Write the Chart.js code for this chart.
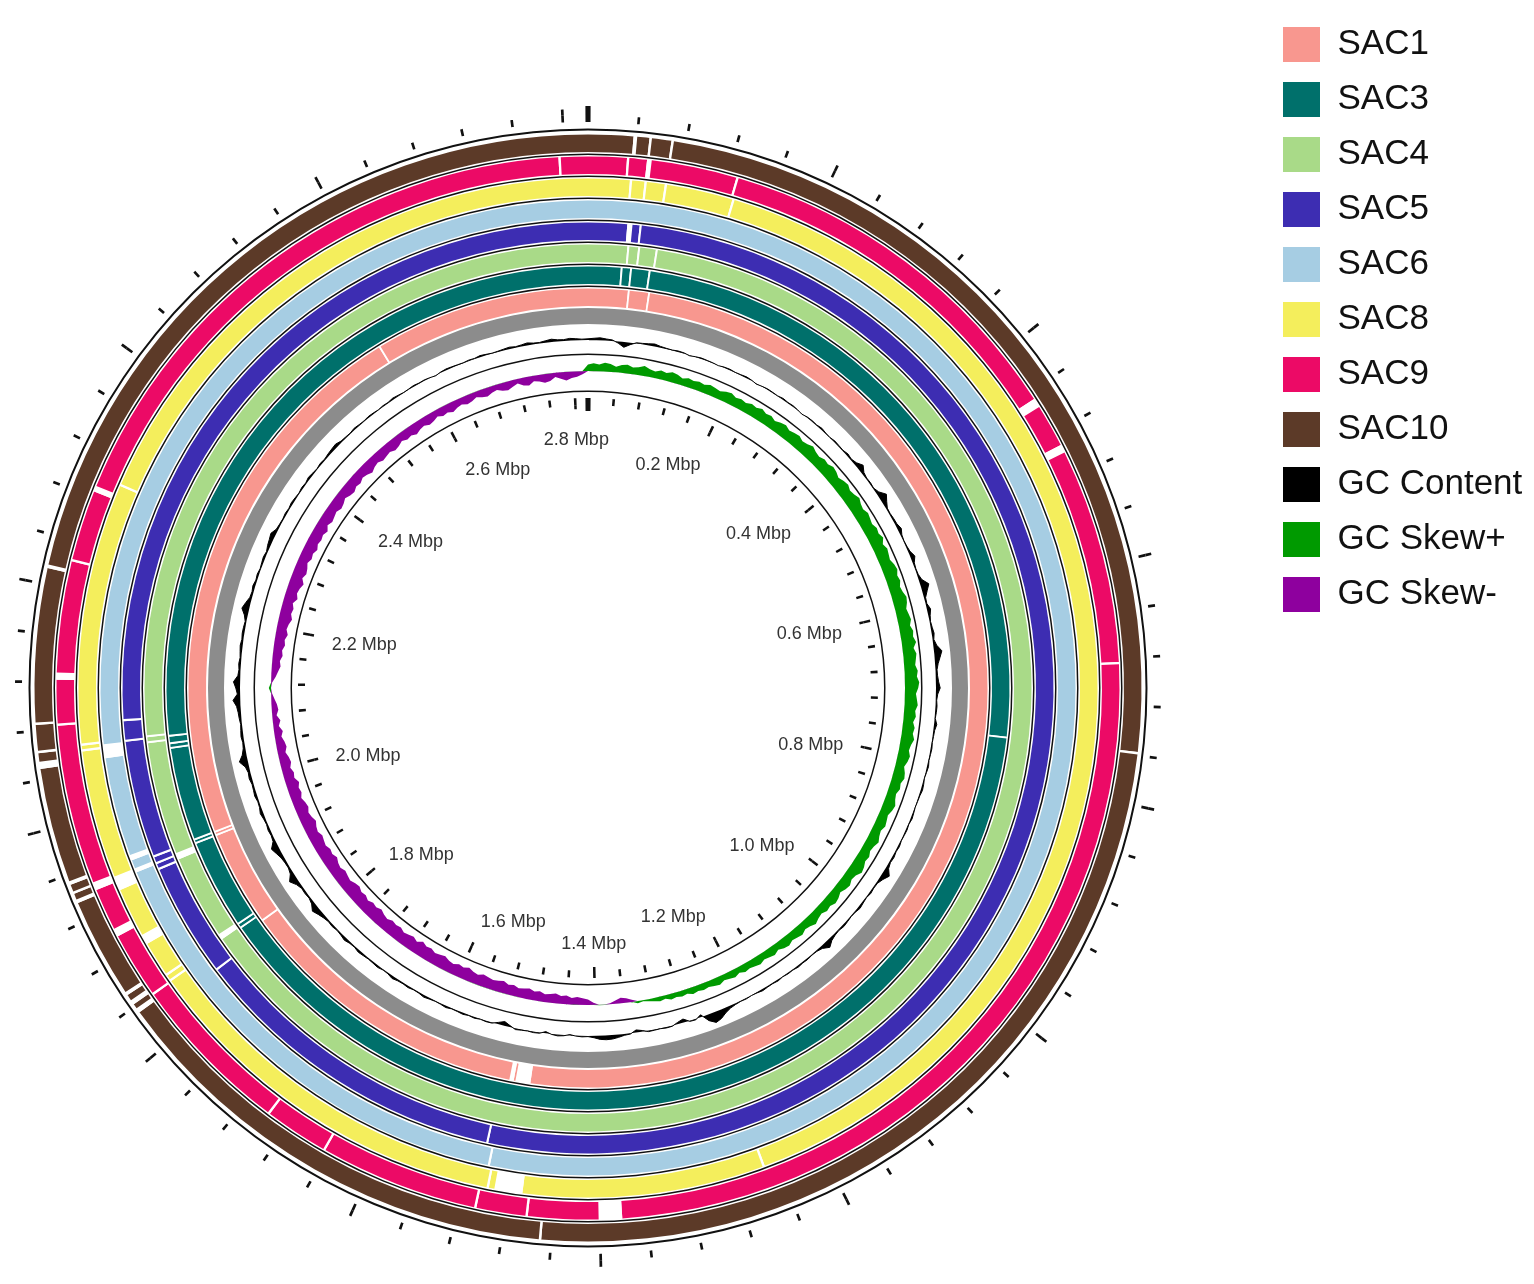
<!DOCTYPE html>
<html>
<head>
<meta charset="utf-8">
<script src="https://cdn.jsdelivr.net/npm/chart.js@4.4.0/dist/chart.umd.min.js"></script>
<style>
  html, body { margin: 0; padding: 0; background: #fff; }
  body { width: 1534px; height: 1284px; position: relative; overflow: hidden; }
  canvas { position: absolute; }
  #rings, #gcContent, #gcSkew { left: 6px; top: 106px; }
  #legend { left: 1263px; top: 7px; }
</style>
</head>
<body>
<canvas id="rings" width="1164" height="1164"></canvas>
<canvas id="gcContent" width="1164" height="1164"></canvas>
<canvas id="gcSkew" width="1164" height="1164"></canvas>
<canvas id="legend" width="271" height="1270"></canvas>
<script>
// ---- data ----
const genomeLength = 2.82; // Mbp
const tickStep = 0.04;
const labelTicks = [0.2, 0.4, 0.6, 0.8, 1.0, 1.2, 1.4, 1.6, 1.8, 2.0, 2.2, 2.4, 2.6, 2.8];
const tickLabels = ['0.2 Mbp', '0.4 Mbp', '0.6 Mbp', '0.8 Mbp', '1.0 Mbp', '1.2 Mbp', '1.4 Mbp',
                    '1.6 Mbp', '1.8 Mbp', '2.0 Mbp', '2.2 Mbp', '2.4 Mbp', '2.6 Mbp', '2.8 Mbp'];

// rings, outermost first
const strains = ['SAC10', 'SAC9', 'SAC8', 'SAC6', 'SAC5', 'SAC4', 'SAC3', 'SAC1'];
const strainColors = ['#5c3a28', '#ec0a66', '#f4ee5c', '#a6cde3', '#3d2db2', '#a9da88', '#00706b', '#f8978f'];

// regions (Mbp) with no BLAST hit against the reference
const gapsSAC10 = [[0.037, 0.040], [0.050, 0.052], [0.068, 0.070], [0.757, 0.759], [1.448, 1.450],
  [1.834, 1.838], [1.842, 1.846], [1.851, 1.854], [1.936, 1.939], [1.944, 1.946], [1.952, 1.955],
  [2.049, 2.055], [2.062, 2.064], [2.085, 2.087], [2.213, 2.216]];
const gapsSAC9 = [[0.033, 0.035], [0.050, 0.054], [0.127, 0.129], [0.447, 0.455], [0.492, 0.499],
  [0.683, 0.685], [1.381, 1.401], [1.461, 1.463], [1.505, 1.507], [1.642, 1.644], [1.698, 1.700],
  [1.839, 1.841], [1.897, 1.904], [1.940, 1.947], [2.083, 2.085], [2.122, 2.128], [2.223, 2.225],
  [2.285, 2.290], [2.795, 2.797]];
const gapsSAC8 = [[0.037, 0.039], [0.050, 0.052], [0.068, 0.070], [0.129, 0.131], [1.251, 1.253],
  [1.468, 1.493], [1.498, 1.500], [1.840, 1.842], [1.846, 1.848], [1.879, 1.888], [1.932, 1.945],
  [2.059, 2.061], [2.064, 2.066], [2.298, 2.300]];
const gapsSAC6 = [[1.501, 1.503], [1.941, 1.945], [1.953, 1.958], [2.050, 2.063]];
const gapsSAC5 = [[0.038, 0.043], [0.050, 0.052], [1.507, 1.509], [1.823, 1.825], [1.935, 1.937],
  [1.941, 1.943], [1.948, 1.950], [2.063, 2.065], [2.083, 2.085]];
const gapsSAC4 = [[0.040, 0.042], [0.051, 0.053], [0.069, 0.071], [1.845, 1.851], [1.937, 1.944],
  [2.059, 2.061], [2.065, 2.067]];
const gapsSAC3 = [[0.035, 0.037], [0.045, 0.047], [0.065, 0.067], [0.757, 0.759], [1.843, 1.845],
  [1.848, 1.850], [1.945, 1.947], [1.949, 1.951], [2.050, 2.052], [2.055, 2.057], [2.063, 2.065]];
const gapsSAC1 = [[0.045, 0.047], [0.068, 0.070], [1.475, 1.492], [1.494, 1.499], [1.836, 1.838],
  [1.945, 1.947], [1.949, 1.951], [2.573, 2.575]];
const strainGaps = [gapsSAC10, gapsSAC9, gapsSAC8, gapsSAC6, gapsSAC5, gapsSAC4, gapsSAC3, gapsSAC1];

// GC content deviation (%) in 360 windows, clockwise from 0
const gcContent = [
  0.4, 0.6, 0.8, 0.5, 0.3, -0.6, -1.8, -0.7, 0.2, 0.3, 0.5, 0.8, 0.4, 0.2, 0.1, 0.3, 0.2, -0.2, 0.1, 0.3,
  0.2, 0.1, -0.1, 0.2, 0.3, 0.1, 0.2, 0.4, 0.2, -0.2, 0.1, 0.3, 0.2, 0.1, 0.4, 0.2, 0.3, 0.1, -0.2, 0.2,
  0.3, 0.2, 0.5, 0.2, 0.1, 0.4, 0.3, 0.2, 0.6, 0.3, 0.8, 2.0, 0.7, 0.3, 0.4, 0.2, 0.9, 2.6, 1.4, 0.4,
  0.3, 0.5, 0.6, 1.2, 0.4, 0.2, 0.3, 0.6, 1.5, 0.5, 0.3, 0.4, 1.0, 2.8, 1.6, 0.5, 0.4, 1.2, 0.6, 0.3,
  0.5, 0.8, 0.4, 1.1, 2.6, 1.8, 1.0, 0.5, 0.6, 0.9, 1.4, 0.6, 0.3, 0.5, 0.4, 0.2, 0.9, 0.4, 0.3, 0.2,
  0.4, 0.3, 0.2, 0.5, 0.3, 0.1, 0.4, 0.6, 0.3, 0.2, 0.1, 0.3, 0.5, 0.2, 0.4, 0.3, 0.2, 0.5, 0.3, 0.6,
  0.4, 0.9, 2.4, 1.2, 0.4, 0.3, 0.5, 0.2, 0.4, 0.7, 0.3, 0.2, 0.4, 0.6, 0.3, 0.5, 1.0, 2.2, 0.8, 0.3,
  0.2, 0.4, 0.3, 0.5, 0.2, 0.3, 0.1, 0.4, 0.2, 0.3, 0.5, 0.2, 0.1, 0.3, 0.2, 0.4, 0.8, 1.6, 2.8, 3.4,
  2.0, -0.8, 0.3, 0.2, -1.2, -0.6, 0.2, 0.3, 0.1, 0.2, 0.3, -0.4, -0.9, 0.2, 0.4, 0.9, 1.3, 1.4, 1.2, 0.6,
  0.2, 0.3, 0.1, -0.3, 0.2, 0.4, 0.1, -0.6, 0.2, 0.3, 0.1, 0.2, 0.4, -0.5, -1.4, -0.6, 0.2, 0.3, 0.1, 0.4,
  0.2, 0.5, 0.3, 0.2, 0.6, 0.3, 0.2, 0.4, 0.7, 0.3, 0.2, 0.5, 0.3, 0.4, 0.8, 0.3, 0.2, 0.6, 0.4, 0.3,
  0.5, 0.7, 0.3, 0.4, 0.9, 0.5, 0.3, 0.6, 0.4, 0.8, 1.4, 2.2, 0.9, 0.4, 0.6, 0.5, 1.2, 2.6, 1.0, 0.5,
  0.6, 0.9, 1.6, 2.4, 0.8, 0.5, 0.7, 0.4, 0.6, 1.0, 0.5, 0.4, 0.8, 0.6, 0.5, 0.9, 0.7, 1.2, 2.8, 1.4,
  0.7, 0.5, 0.8, 0.6, 0.4, 0.7, 0.9, 1.3, 2.4, 0.9, 1.4, 2.2, 0.8, 0.5, 0.7, 0.4, 0.6, 0.8, 0.5, 0.7,
  0.6, 0.4, 1.1, 2.4, 1.6, 0.7, 0.5, 0.8, 0.4, 0.6, 0.3, 0.5, 0.7, 0.4, 0.9, 1.2, 1.6, 0.6, 0.4, 0.3,
  0.5, 0.3, 0.6, 0.4, 0.2, 0.5, 0.3, 0.7, 0.4, 0.2, 0.5, 0.3, 0.6, 0.8, 1.0, 0.4, 0.3, 0.2, 0.5, 0.3,
  0.2, 0.4, 0.3, 0.1, 0.3, 0.2, 0.5, 0.3, 0.1, 0.2, 0.4, 0.2, 0.3, 0.1, -0.2, 0.2, 0.4, 0.3, 0.2, 0.1,
  0.3, 0.2, 0.5, 0.3, 0.1, 0.2, 0.4, 0.6, 0.3, 0.5, 0.8, 0.4, 0.3, 0.6, 0.9, 0.5, 0.4, 0.7, 0.5, 0.3
];

// GC skew (G-C)/(G+C) in the same 360 windows
const gcSkew = [
  0.06, 0.07, 0.06, 0.08, 0.07, 0.05, 0.07, 0.08, 0.06, 0.07, 0.09, 0.07, 0.06, 0.08, 0.07, 0.09, 0.08, 0.06, 0.08, 0.07,
  0.08, 0.07, 0.09, 0.08, 0.07, 0.09, 0.10, 0.08, 0.09, 0.08, 0.10, 0.09, 0.11, 0.09, 0.10, 0.08, 0.10, 0.11, 0.09, 0.10,
  0.11, 0.09, 0.10, 0.12, 0.10, 0.09, 0.11, 0.10, 0.12, 0.11, 0.09, 0.11, 0.12, 0.10, 0.11, 0.13, 0.11, 0.10, 0.12, 0.11,
  0.10, 0.12, 0.11, 0.13, 0.10, 0.12, 0.11, 0.10, 0.12, 0.13, 0.11, 0.12, 0.10, 0.11, 0.13, 0.12, 0.10, 0.11, 0.12, 0.10,
  0.12, 0.11, 0.13, 0.10, 0.12, 0.11, 0.10, 0.12, 0.11, 0.13, 0.12, 0.10, 0.11, 0.12, 0.10, 0.11, 0.09, 0.11, 0.10, 0.12,
  0.10, 0.09, 0.11, 0.10, 0.08, 0.10, 0.11, 0.09, 0.10, 0.08, 0.09, 0.11, 0.10, 0.08, 0.09, 0.10, 0.08, 0.09, 0.11, 0.09,
  0.08, 0.10, 0.09, 0.11, 0.12, 0.09, 0.08, 0.10, 0.09, 0.07, 0.09, 0.10, 0.08, 0.09, 0.07, 0.08, 0.10, 0.08, 0.07, 0.09,
  0.08, 0.07, 0.09, 0.08, 0.06, 0.08, 0.07, 0.06, 0.08, 0.07, 0.06, 0.07, 0.05, 0.07, 0.06, 0.05, 0.07, 0.06, 0.05, 0.06,
  0.05, 0.06, 0.04, 0.05, 0.04, 0.05, 0.03, 0.04, 0.03, 0.02, 0.01, 0.02, -0.02, -0.04, -0.05, -0.03, -0.01, 0.003, 0.004, -0.02,
  -0.05, -0.06, -0.07, -0.06, -0.08, -0.07, -0.09, -0.08, -0.07, -0.09, -0.08, -0.10, -0.09, -0.08, -0.10, -0.09, -0.11, -0.10, -0.09, -0.10,
  -0.11, -0.09, -0.10, -0.12, -0.10, -0.11, -0.09, -0.10, -0.12, -0.11, -0.10, -0.12, -0.11, -0.13, -0.10, -0.12, -0.11, -0.10, -0.12, -0.11,
  -0.12, -0.10, -0.11, -0.13, -0.11, -0.12, -0.10, -0.12, -0.11, -0.13, -0.12, -0.10, -0.11, -0.12, -0.10, -0.11, -0.13, -0.11, -0.12, -0.10,
  -0.11, -0.12, -0.10, -0.11, -0.13, -0.11, -0.10, -0.12, -0.11, -0.09, -0.11, -0.10, -0.12, -0.09, -0.10, -0.08, -0.10, -0.09, -0.07, -0.09,
  -0.08, -0.06, -0.08, -0.05, -0.07, -0.04, -0.06, -0.05, -0.03, -0.01, 0.02, -0.01, -0.04, -0.06, -0.08, -0.07, -0.09, -0.08, -0.10, -0.09,
  -0.11, -0.09, -0.10, -0.12, -0.10, -0.11, -0.09, -0.12, -0.10, -0.11, -0.13, -0.10, -0.12, -0.11, -0.09, -0.11, -0.10, -0.12, -0.10, -0.11,
  -0.10, -0.12, -0.09, -0.11, -0.10, -0.09, -0.11, -0.10, -0.08, -0.10, -0.11, -0.09, -0.10, -0.08, -0.09, -0.11, -0.09, -0.08, -0.10, -0.09,
  -0.08, -0.10, -0.09, -0.07, -0.09, -0.08, -0.10, -0.08, -0.07, -0.09, -0.08, -0.06, -0.08, -0.07, -0.09, -0.07, -0.06, -0.08, -0.07, -0.05,
  -0.07, -0.08, -0.06, -0.05, -0.07, -0.08, -0.06, -0.04, -0.07, -0.08, -0.05, -0.06, -0.08, -0.07, -0.04, -0.06, -0.08, -0.06, -0.05, -0.03
];

const legendLabels = ['SAC1', 'SAC3', 'SAC4', 'SAC5', 'SAC6', 'SAC8', 'SAC9', 'SAC10',
                      'GC Content', 'GC Skew+', 'GC Skew-'];
const legendColors = ['#f8978f', '#00706b', '#a9da88', '#3d2db2', '#a6cde3', '#f4ee5c', '#ec0a66',
                      '#5c3a28', '#000000', '#009a00', '#8e009e'];

// ---- geometry / style ----
const OUTER = 582;          // px, half of the canvas
const BLACK = '#111';
const NONE = 'rgba(0,0,0,0)';
const GRAY = '#8c8c8c';

const allTicks = [];
for (let k = 0; k * tickStep < genomeLength - 1e-9; k++) allTicks.push(+(k * tickStep).toFixed(2));

function buildSegments(marks, markColor, baseColor) {
  const data = [], colors = [], markIdx = [];
  let pos = 0;
  marks.slice().sort((a, b) => a[0] - b[0]).forEach(([s, e]) => {
    if (s > pos) { data.push(s - pos); colors.push(baseColor); }
    markIdx.push(data.length);
    data.push(e - s); colors.push(markColor);
    pos = e;
  });
  if (pos < genomeLength) { data.push(genomeLength - pos); colors.push(baseColor); }
  return { data, colors, markIdx };
}

function tickMarks(positions, width, zeroWidth) {
  const marks = [];
  positions.forEach(p => {
    const w = p === 0 ? zeroWidth : width;
    if (p - w / 2 < 0) {
      marks.push([0, p + w / 2]);
      marks.push([genomeLength + p - w / 2, genomeLength]);
    } else {
      marks.push([p - w / 2, p + w / 2]);
    }
  });
  return marks;
}

const datasets = [];
function layer(label, marks, markColor, baseColor, thickness) {
  const seg = buildSegments(marks, markColor, baseColor);
  datasets.push({ label, data: seg.data, backgroundColor: seg.colors, weight: thickness });
  return seg;
}
const solid = (color, thickness) => layer('', [], color, color, thickness);

// outer scale ticks
layer('ticks', tickMarks([0], 0.0021, 0.004), BLACK, NONE, 3);
layer('ticks', tickMarks([0, ...labelTicks], 0.0021, 0.004), BLACK, NONE, 6);
layer('ticks', tickMarks(allTicks, 0.0021, 0.004), BLACK, NONE, 7);
solid(NONE, 6.5);
solid(BLACK, 2);
solid(NONE, 4);
// BLAST rings
strains.forEach((name, i) => {
  layer(name, strainGaps[i], '#ffffff', strainColors[i], 17.5);
  if (i < strains.length - 1) { solid(NONE, 1.5); solid(BLACK, 1.5); solid(NONE, 1.5); }
});
solid(NONE, 2);
solid(GRAY, 16);          // reference backbone
solid(NONE, 29.5);        // GC content lane
solid(BLACK, 1.5);
solid(NONE, 35.5);        // GC skew lane
solid(BLACK, 1.5);
solid(NONE, 6);
// inner scale ticks
layer('ticks', tickMarks(allTicks, 0.004, 0.008), BLACK, NONE, 7);
layer('ticks', tickMarks([0, ...labelTicks], 0.004, 0.008), BLACK, NONE, 4);
layer('ticks', tickMarks([0], 0.004, 0.008), BLACK, NONE, 2);
// zero-width anchors for the scale labels
const labelSeg = layer('labels', tickMarks(labelTicks, 0.001, 0.001), NONE, NONE, 0);
const labelDataset = datasets.length - 1;

const totalWeight = datasets.reduce((s, d) => s + d.weight, 0);

const tickLabelPlugin = {
  id: 'tickLabels',
  afterDatasetsDraw(chart) {
    const meta = chart.getDatasetMeta(labelDataset);
    const ctx = chart.ctx;
    ctx.save();
    ctx.font = '18px "Liberation Sans", Arial, sans-serif';
    ctx.fillStyle = '#333';
    ctx.textBaseline = 'middle';
    labelSeg.markIdx.forEach((idx, k) => {
      const arc = meta.data[idx];
      const { x, y, startAngle, endAngle, outerRadius } =
        arc.getProps(['x', 'y', 'startAngle', 'endAngle', 'outerRadius'], true);
      const a = (startAngle + endAngle) / 2;
      const r = outerRadius - 16;
      const c = Math.cos(a), s = Math.sin(a);
      ctx.textAlign = Math.abs(c) < 0.1 ? 'center' : (c > 0 ? 'right' : 'left');
      ctx.fillText(tickLabels[k], x + c * r, y + s * r - s * 9 + 4);
    });
    ctx.restore();
  }
};

new Chart(document.getElementById('rings'), {
  type: 'doughnut',
  data: { datasets },
  options: {
    responsive: false,
    animation: false,
    events: [],
    cutout: OUTER - totalWeight,
    layout: { padding: 0 },
    elements: { arc: { borderWidth: 0, hoverBorderWidth: 0, offset: 0, hoverOffset: 0 } },
    plugins: { legend: { display: false }, tooltip: { enabled: false } }
  },
  plugins: [tickLabelPlugin]
});

// ---- GC content and GC skew as radar lines on their own lanes ----
const windowLabels = gcContent.map((_, i) => (i * genomeLength / gcContent.length).toFixed(3) + ' Mbp');

function laneScale(baseRadius, pxPerUnit) {
  return {
    min: -baseRadius / pxPerUnit,
    max: (OUTER - baseRadius) / pxPerUnit,
    ticks: { display: false },
    grid: { display: false, circular: true },
    angleLines: { display: false },
    pointLabels: { display: false }
  };
}
const radarOptions = (scale) => ({
  responsive: false,
  animation: false,
  events: [],
  layout: { padding: 0 },
  elements: { point: { radius: 0 }, line: { tension: 0 } },
  plugins: { legend: { display: false }, tooltip: { enabled: false } },
  scales: { r: scale }
});

new Chart(document.getElementById('gcContent'), {
  type: 'radar',
  data: {
    labels: windowLabels,
    datasets: [{
      label: 'GC Content', data: gcContent,
      borderColor: '#000', borderWidth: 1, backgroundColor: '#000', fill: { value: 0 }
    }]
  },
  options: radarOptions(laneScale(348, 3))
});

new Chart(document.getElementById('gcSkew'), {
  type: 'radar',
  data: {
    labels: windowLabels,
    datasets: [
      { label: 'GC Skew+', data: gcSkew.map(v => Math.max(v, 0)),
        borderWidth: 0, backgroundColor: '#009a00', fill: { value: 0 } },
      { label: 'GC Skew-', data: gcSkew.map(v => Math.min(v, 0)),
        borderWidth: 0, backgroundColor: '#8e009e', fill: { value: 0 } }
    ]
  },
  options: radarOptions(laneScale(317, 110))
});

// ---- legend ----
new Chart(document.getElementById('legend'), {
  type: 'bar',
  data: {
    labels: [],
    datasets: legendLabels.map((label, i) => ({ label, data: [], backgroundColor: legendColors[i], borderWidth: 0 }))
  },
  options: {
    responsive: false,
    animation: false,
    events: [],
    scales: { x: { display: false }, y: { display: false } },
    plugins: {
      tooltip: { enabled: false },
      legend: {
        position: 'top',
        align: 'start',
        labels: {
          boxWidth: 37, boxHeight: 35, padding: 20, color: '#111',
          font: { size: 35, family: '"Liberation Sans", Arial, sans-serif' }
        }
      }
    }
  }
});
</script>
</body>
</html>
